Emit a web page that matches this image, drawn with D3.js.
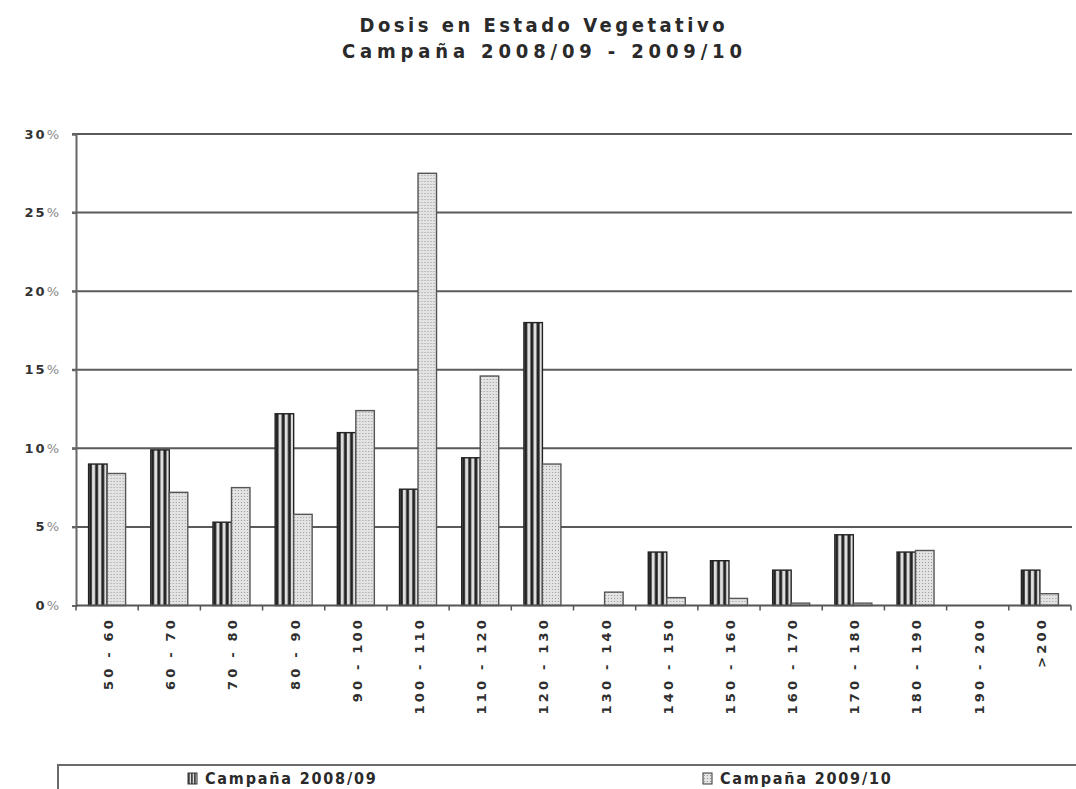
<!DOCTYPE html>
<html>
<head>
<meta charset="utf-8">
<script src="https://cdn.jsdelivr.net/npm/d3@7"></script>
<style>
  html, body { margin: 0; padding: 0; background: #fff; }
  svg { display: block; }
  text { font-family: "DejaVu Sans", Verdana, sans-serif; }
  .cond { font-family: "DejaVu Sans Condensed", "DejaVu Sans", sans-serif; font-stretch: condensed; }
</style>
</head>
<body>
<svg id="chart" width="1076" height="789"></svg>
<script>
const titleLines = ["Dosis en Estado Vegetativo", "Campaña 2008/09 - 2009/10"];
const categories = ["50 - 60", "60 - 70", "70 - 80", "80 - 90", "90 - 100", "100 - 110", "110 - 120", "120 - 130",
                    "130 - 140", "140 - 150", "150 - 160", "160 - 170", "170 - 180", "180 - 190", "190 - 200", ">200"];
const seriesNames = ["Campaña 2008/09", "Campaña 2009/10"];
const values0809 = [9.0, 9.9, 5.3, 12.2, 11.0, 7.4, 9.4, 18.0, 0, 3.4, 2.85, 2.25, 4.5, 3.4, 0, 2.25];
const values0910 = [8.4, 7.2, 7.5, 5.8, 12.4, 27.5, 14.6, 9.0, 0.85, 0.5, 0.45, 0.15, 0.15, 3.5, 0, 0.75];
const yTicks = [0, 5, 10, 15, 20, 25, 30];

const svg = d3.select("#chart");
const defs = svg.append("defs");

// striped pattern (2008/09)
const pStripe = defs.append("pattern").attr("id", "stripes")
  .attr("patternUnits", "objectBoundingBox").attr("patternContentUnits", "objectBoundingBox")
  .attr("width", 1 / 3).attr("height", 1);
pStripe.append("rect").attr("width", 1 / 3).attr("height", 1).attr("fill", "#dedede");
pStripe.append("rect").attr("x", 0.02).attr("width", 0.16).attr("height", 1).attr("fill", "#222");

// dotted pattern (2009/10)
const pDots = defs.append("pattern").attr("id", "dots")
  .attr("patternUnits", "userSpaceOnUse").attr("width", 3).attr("height", 3);
pDots.append("rect").attr("width", 3).attr("height", 3).attr("fill", "#e3e3e3");
pDots.append("rect").attr("x", 1).attr("y", 1).attr("width", 1).attr("height", 1).attr("fill", "#9a9a9a");

const plot = { left: 76, right: 1071, top: 134, bottom: 605.5 };

const x = d3.scaleBand().domain(categories)
  .range([plot.left, plot.right]).paddingInner(0.405).paddingOuter(0.2025);
const xSub = d3.scaleBand().domain(seriesNames).range([0, x.bandwidth()]).padding(0);
const y = d3.scaleLinear().domain([0, 30]).range([plot.bottom, plot.top]);

// title
svg.append("g").selectAll("text").data(titleLines).join("text")
  .attr("class", "cond")
  .attr("x", 542).attr("y", (d, i) => 32 + i * 26)
  .attr("text-anchor", "middle")
  .attr("font-size", 20).attr("font-weight", "bold").attr("fill", "#2a2a2a")
  .attr("textLength", (d, i) => i === 0 ? 365 : 400)
  .attr("lengthAdjust", "spacing")
  .text(d => d);

// gridlines
svg.append("g").selectAll("line").data(yTicks.filter(d => d > 0)).join("line")
  .attr("x1", plot.left - 4).attr("x2", plot.right + 1)
  .attr("y1", d => y(d)).attr("y2", d => y(d))
  .attr("stroke", "#5a5a5a").attr("stroke-width", 2);

// y axis
const yAxis = svg.append("g").attr("transform", `translate(${plot.left},0)`)
  .call(d3.axisLeft(y).tickValues(yTicks).tickSize(4).tickFormat(""));
yAxis.select(".domain").attr("stroke", "#666").attr("stroke-width", 2);
yAxis.selectAll(".tick line").attr("stroke", "#666").attr("stroke-width", 2);

const yLab = svg.append("g").selectAll("text").data(yTicks).join("text")
  .attr("x", 61).attr("y", d => y(d)).attr("dy", "0.35em")
  .attr("text-anchor", "end").attr("font-size", 13).attr("font-weight", "bold")
  .attr("fill", "#333").style("letter-spacing", "2px");
yLab.append("tspan").text(d => d);
yLab.append("tspan").attr("fill", "#888").attr("font-weight", "normal").text("%");

// bars
const seriesVals = [values0809, values0910];
const groups = svg.append("g").selectAll("g").data(categories).join("g")
  .attr("transform", d => `translate(${x(d)},0)`);
groups.selectAll("rect")
  .data((d, i) => seriesNames.map((s, k) => ({ s, k, v: seriesVals[k][i] })))
  .join("rect")
  .filter(d => d.v > 0)
  .attr("x", d => xSub(d.s))
  .attr("y", d => y(d.v))
  .attr("width", xSub.bandwidth())
  .attr("height", d => y(0) - y(d.v))
  .attr("fill", d => d.k === 0 ? "url(#stripes)" : "url(#dots)")
  .attr("stroke", d => d.k === 0 ? "#222" : "#555")
  .attr("stroke-width", 1.4);

// x axis
const xAxisG = svg.append("g");
xAxisG.append("line").attr("x1", plot.left).attr("x2", plot.right)
  .attr("y1", plot.bottom).attr("y2", plot.bottom)
  .attr("stroke", "#555").attr("stroke-width", 2);
const edges = categories.map(c => x(c) - (x.step() - x.bandwidth()) / 2).concat([plot.right]);
xAxisG.selectAll("line.tk").data(edges).join("line").attr("class", "tk")
  .attr("x1", d => d).attr("x2", d => d)
  .attr("y1", plot.bottom).attr("y2", plot.bottom + 5)
  .attr("stroke", "#555").attr("stroke-width", 1.5);

svg.append("g").selectAll("text").data(categories).join("text")
  .attr("transform", d => `translate(${x(d) + x.bandwidth() / 2 + 1},617) rotate(-90)`)
  .attr("dy", "0.38em")
  .attr("text-anchor", "end").attr("font-size", 13).attr("font-weight", "bold")
  .attr("fill", "#2e2e2e").style("letter-spacing", "3.2px")
  .text(d => d);

// legend
const leg = svg.append("g");
leg.append("rect").attr("x", 58).attr("y", 765).attr("width", 1040).attr("height", 40)
  .attr("fill", "#fff").attr("stroke", "#6a6a6a").attr("stroke-width", 2);
const legX = [188, 703];
const legItems = leg.selectAll("g").data(seriesNames).join("g")
  .attr("transform", (d, i) => `translate(${legX[i]},0)`);
legItems.append("rect").attr("x", 0).attr("y", 773).attr("width", 9).attr("height", 11)
  .attr("fill", (d, i) => i === 0 ? "url(#stripes)" : "url(#dots)")
  .attr("stroke", "#333").attr("stroke-width", 1);
legItems.append("text").attr("class", "cond").attr("x", 17).attr("y", 784)
  .attr("font-size", 16).attr("font-weight", "bold").attr("fill", "#2a2a2a")
  .style("letter-spacing", "1.8px")
  .text(d => d);
</script>
</body>
</html>
